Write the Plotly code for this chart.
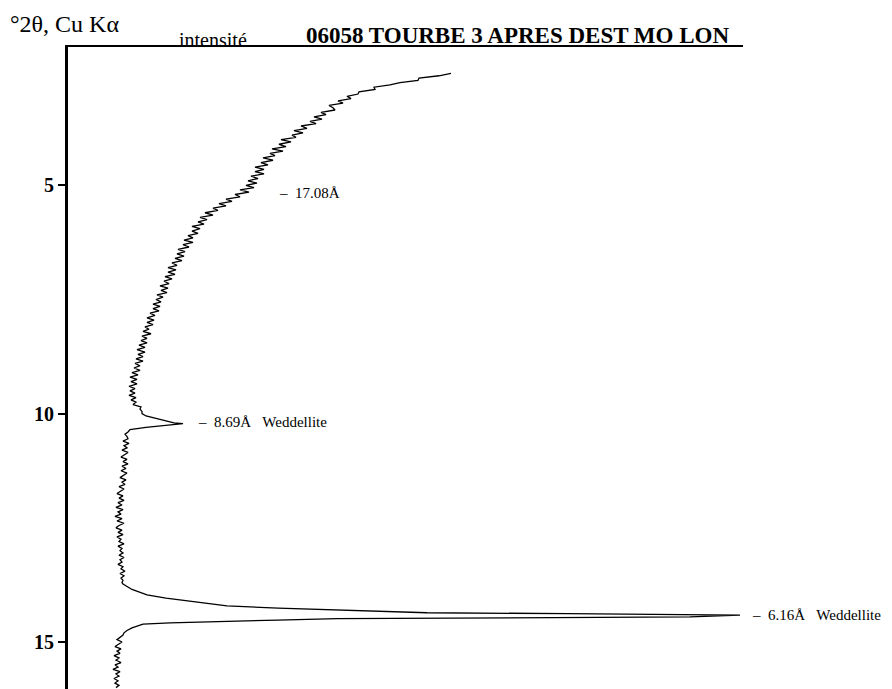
import plotly.graph_objects as go

# ---- data (2theta in degrees, intensity in arbitrary units) ----
# background scan 2.55 -> 9.95 deg, step 0.05
int_a = [383, 371, 351, 350, 332, 322, 306, 307, 291, 290,
         279, 283, 270, 275, 261, 265, 267, 253, 258, 246,
         254, 242, 248, 233, 239, 226, 235, 224, 228, 213,
         223, 211, 218, 204, 215, 202, 207, 195, 205, 193,
         200, 187, 196, 187, 196, 183, 190, 180, 189, 178,
         186, 172, 181, 167, 172, 158, 164, 151, 158, 145,
         150, 137, 145, 132, 139, 130, 136, 124, 132, 124,
         130, 120, 125, 116, 125, 115, 121, 110, 117, 109,
         116, 107, 114, 104, 109, 100, 108, 100, 107, 97,
         104, 96, 101, 92, 100, 93, 99, 89, 95, 88,
         93, 85, 92, 85, 91, 82, 87, 79, 86, 79,
         85, 77, 81, 75, 83, 74, 79, 73, 79, 71,
         77, 69, 77, 70, 75, 68, 75, 67, 72, 66,
         72, 64, 70, 62, 69, 63, 69, 61, 67, 62,
         67, 61, 68, 63, 68, 65, 73, 72, 74]

# 8.69 A weddellite peak
theta_p1 = [10.00, 10.05, 10.10, 10.14, 10.18, 10.20, 10.22, 10.26, 10.30, 10.35, 10.40, 10.45, 10.50]
int_p1 = [74, 78, 87, 95, 102, 106, 115, 95, 78, 62, 60, 57, 59]

# background 10.55 -> 13.70 deg, step 0.05
int_c = [60, 55, 61, 56, 59, 54, 60, 57, 53, 59,
         55, 60, 54, 58, 53, 59, 56, 52, 58, 54,
         57, 51, 56, 53, 49, 55, 51, 56, 50, 54,
         48, 55, 50, 53, 47, 54, 49, 56, 51, 48,
         54, 50, 55, 49, 53, 51, 56, 50, 54, 52,
         55, 51, 56, 52, 54, 50, 55, 53, 57, 52,
         56, 53, 55, 54]

# 6.16 A weddellite peak
theta_p2 = [13.73, 13.85, 13.97, 14.04, 14.10, 14.16, 14.21, 14.26, 14.30, 14.33, 14.36, 14.38,
            14.41, 14.45, 14.46, 14.47, 14.49, 14.52, 14.54, 14.56, 14.58, 14.61, 14.65, 14.69,
            14.75, 14.80]
int_p2 = [55, 64, 79, 98, 119, 140, 159, 210, 269, 320, 359, 500,
          672, 622, 482, 392, 269, 210, 165, 130, 102, 75, 68, 64,
          59, 56]

# background 14.85 -> 16.00 deg, step 0.05
int_e = [55, 52, 49, 54, 50, 47, 53, 49, 52, 46,
         51, 48, 53, 47, 50, 45, 52, 48, 51, 46,
         50, 47, 51, 48]

tick_vals = [5, 10, 15]
tick_text = ["5", "10", "15"]

peak_labels = ["\u2013\u00a0\u00a017.08\u00c5",
               "\u2013\u00a0\u00a08.69\u00c5\u00a0\u00a0\u00a0Weddellite",
               "\u2013\u00a0\u00a06.16\u00c5\u00a0\u00a0\u00a0Weddellite"]
peak_label_theta = [5.17, 10.18, 14.41]
peak_label_int = [209, 128, 682]

title_text = "06058 TOURBE 3 APRES DEST MO LON"
xlabel_text = "intensit\u00e9"
ylabel_text = "\u00b02\u03b8, Cu K\u03b1"

X_MAX = 675

# ---- assemble scan ----
theta_a = [round(2.55 + 0.05 * i, 2) for i in range(len(int_a))]
theta_c = [round(10.55 + 0.05 * i, 2) for i in range(len(int_c))]
theta_e = [round(14.85 + 0.05 * i, 2) for i in range(len(int_e))]

two_theta = theta_a + theta_p1 + theta_c + theta_p2 + theta_e
intensity = int_a + int_p1 + int_c + int_p2 + int_e

# page has an 8px body margin: compensate so the plot sits at 68..743 x 47..689
OFF = 8
W, H = 892 - OFF, 689 - OFF
L, R, T, B = 68 - OFF, 149, 47 - OFF, 0
FONT = "Liberation Serif"


def px_x(px):
    return (px - OFF - L) / (W - L - R)


def px_y(py):
    return 1 - (py - OFF - T) / (H - T - B)


fig = go.Figure()
fig.add_trace(go.Scatter(x=intensity, y=two_theta, mode="lines",
                         line=dict(color="black", width=1.3),
                         hoverinfo="skip", showlegend=False))

for txt, th, it in zip(peak_labels, peak_label_theta, peak_label_int):
    fig.add_annotation(x=it / X_MAX, y=th, xref="paper", yref="y", text=txt, showarrow=False,
                       xanchor="left", yanchor="middle",
                       font=dict(family=FONT, size=15, color="black"))

fig.add_annotation(x=px_x(9), y=px_y(24), xref="paper", yref="paper", text=ylabel_text,
                   showarrow=False, xanchor="left", yanchor="middle", borderpad=0,
                   font=dict(family=FONT, size=24, color="black"))
fig.add_annotation(x=px_x(213), y=px_y(40), xref="paper", yref="paper", text=xlabel_text,
                   showarrow=False, xanchor="center", yanchor="middle",
                   font=dict(family=FONT, size=20, color="black"))
fig.add_annotation(x=px_x(517), y=px_y(36), xref="paper", yref="paper", text=title_text,
                   showarrow=False, xanchor="center", yanchor="middle",
                   font=dict(family=FONT, size=23, color="black", weight="bold"))

fig.update_xaxes(range=[0, X_MAX], side="top", showline=True, linewidth=2, linecolor="black",
                 showticklabels=False, ticks="", showgrid=False, zeroline=False)
fig.update_yaxes(range=[16.03, 1.97], showline=True, linewidth=3, linecolor="black",
                 tickvals=tick_vals, ticktext=tick_text, ticks="outside", ticklen=7,
                 tickwidth=2, tickcolor="black", showgrid=False, zeroline=False,
                 tickfont=dict(family=FONT, size=20, color="black", weight="bold"))

fig.update_layout(width=W, height=H, margin=dict(l=L, r=R, t=T, b=B),
                  paper_bgcolor="white", plot_bgcolor="white", showlegend=False)

fig.write_html("out.html")
